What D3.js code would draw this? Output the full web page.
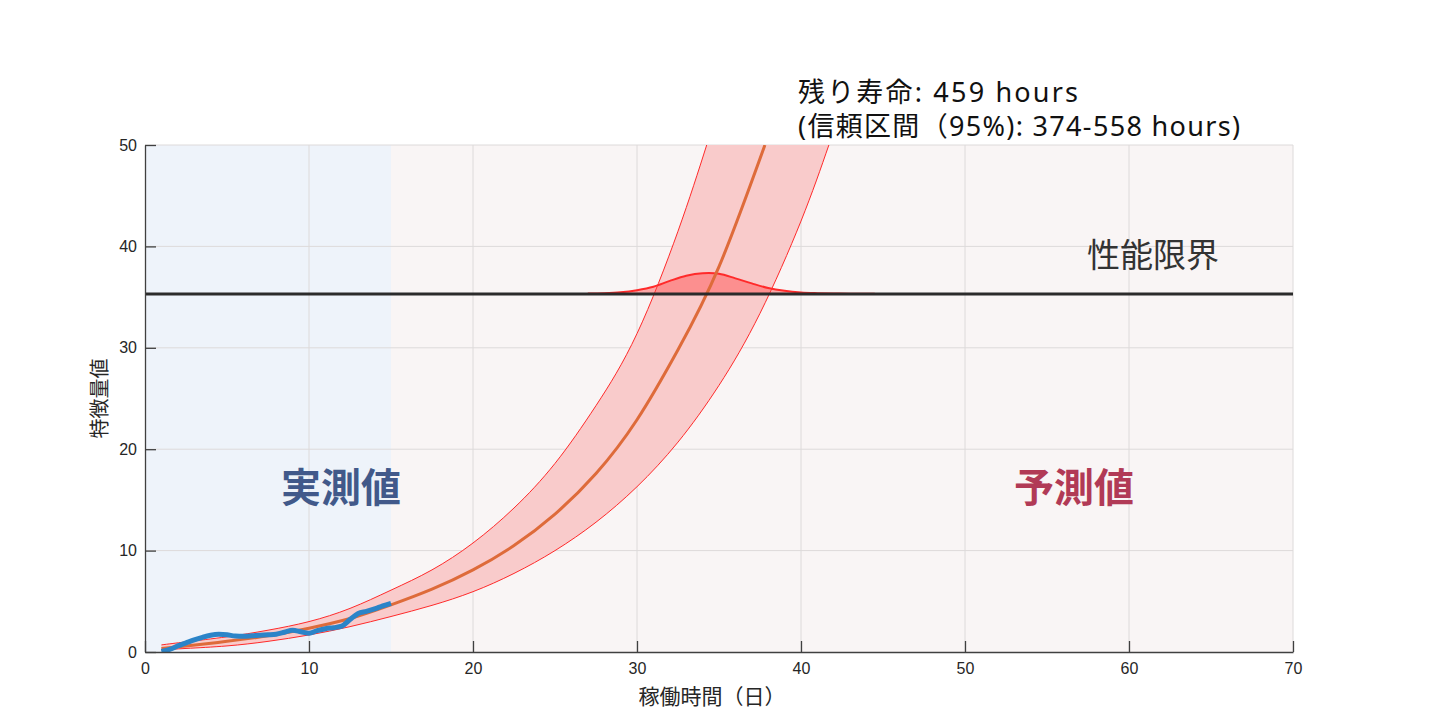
<!DOCTYPE html>
<html><head><meta charset="utf-8">
<script src="https://cdn.jsdelivr.net/npm/d3@7"></script>
<style>
html,body{margin:0;padding:0;background:#fff;}
svg{display:block;}
text{font-family:"Noto Sans","Noto Sans CJK JP",sans-serif;}
</style></head>
<body>
<svg id="chart" width="1437" height="725"></svg>
<script>
// ---- data ----
const xTicks = [0,10,20,30,40,50,60,70];
const yTicks = [0,10,20,30,40,50];
const threshold = 35.3;
const measuredEnd = 15;

const measuredDays   = [1,1.5,2,2.5,3,3.5,4,4.5,5,5.5,6,6.5,7,7.5,8,8.5,9,9.5,10,10.5,11,11.5,12,12.5,13,13.5,14,14.5,15];
const measuredValues = [0.05,0.25,0.6,0.9,1.2,1.45,1.65,1.74,1.7,1.58,1.56,1.6,1.66,1.7,1.76,1.95,2.15,2.0,1.85,2.1,2.3,2.4,2.55,3.2,3.8,4.0,4.25,4.55,4.8];

const fitDays   = [1,2.5,5,7.5,10,12.5,15,17.5,20,22.5,25,27.5,30,32.5,35,37.8];
const fitValues = [0.35,0.6,1.05,1.6,2.35,3.3,4.65,6.2,8.1,10.5,13.6,17.6,22.9,29.8,38.0,50];

const upperDays   = [1,2.5,5,7.5,10,12.5,15,17.5,20,22.5,25,27.5,30,32.5,34.25];
const upperValues = [0.7,1.0,1.5,2.15,3.0,4.3,6.1,8.1,10.75,14.2,18.6,24.3,31.4,41.5,50];

const lowerDays   = [1,2.5,5,7.5,10,12.5,15,17.5,20,22.5,25,27.5,30,32.5,35,37.5,40,41.7];
const lowerValues = [0.2,0.35,0.6,1.05,1.68,2.5,3.5,4.6,5.95,7.75,10.0,12.8,16.3,20.7,26.3,33.4,42.5,50];

const pdfDays    = [27,28,29,30,31,32,33,34,35,36,37,38,39,40,41,42,43,44.5];
const pdfHeights = [0.05,0.08,0.17,0.38,0.72,1.3,1.8,2.05,2.0,1.55,1.05,0.6,0.32,0.16,0.09,0.05,0.04,0.03];

const titleLines = ["残り寿命: 459 hours", "(信頼区間（95%): 374-558 hours)"];

// ---- layout ----
const L = 145, R = 1293, T = 145, B = 652;
const svg = d3.select("#chart");
const x = d3.scaleLinear().domain([0,70]).range([L,R]);
const y = d3.scaleLinear().domain([0,50]).range([B,T]);

svg.append("defs").append("clipPath").attr("id","clip")
  .append("rect").attr("x",L).attr("y",T).attr("width",R-L).attr("height",B-T);

// backgrounds
svg.append("rect").attr("x",x(0)).attr("y",T).attr("width",x(measuredEnd)-x(0)).attr("height",B-T).attr("fill","#EEF3FA");
svg.append("rect").attr("x",x(measuredEnd)).attr("y",T).attr("width",x(70)-x(measuredEnd)).attr("height",B-T).attr("fill","#F9F5F5");

// grid
const grid = svg.append("g");
grid.selectAll(".gx").data(xTicks.slice(1)).join("line")
  .attr("x1",d=>x(d)).attr("x2",d=>x(d)).attr("y1",T).attr("y2",B)
  .attr("stroke","#DDDADA").attr("stroke-width",1);
grid.selectAll(".gy").data(yTicks.slice(1)).join("line")
  .attr("x1",L).attr("x2",R).attr("y1",d=>y(d)).attr("y2",d=>y(d))
  .attr("stroke","#DDDADA").attr("stroke-width",1);

const plot = svg.append("g").attr("clip-path","url(#clip)");
const mk = (ds,vs)=>ds.map((d,i)=>[d,vs[i]]);
const line = d3.line().x(d=>x(d[0])).y(d=>y(d[1])).curve(d3.curveNatural);

const upperPts = mk(upperDays,upperValues);
const lowerPts = mk(lowerDays,lowerValues);
const bandPath = line(upperPts) + "L" + line(lowerPts.slice().reverse()).slice(1) + "Z";
plot.append("path").attr("d",bandPath).attr("fill","#F9CBCB").attr("stroke","none");
plot.append("path").attr("d",line(upperPts)).attr("fill","none").attr("stroke","#FF2A2A").attr("stroke-width",1);
plot.append("path").attr("d",line(lowerPts)).attr("fill","none").attr("stroke","#FF2A2A").attr("stroke-width",1);

// pdf
const pdfPts = mk(pdfDays,pdfHeights);
const pdfArea = d3.area().x(d=>x(d[0])).y0(y(threshold)).y1(d=>y(threshold+d[1])).curve(d3.curveCatmullRom.alpha(0.5));
plot.append("path").attr("d",pdfArea(pdfPts)).attr("fill","rgba(255,70,70,0.45)");
plot.append("path").attr("d",d3.line().x(d=>x(d[0])).y(d=>y(threshold+d[1])).curve(d3.curveCatmullRom.alpha(0.5))(pdfPts))
  .attr("fill","none").attr("stroke","#FF2A2A").attr("stroke-width",2);

// fit
plot.append("path").attr("d",line(mk(fitDays,fitValues))).attr("fill","none").attr("stroke","#DE6B3A").attr("stroke-width",3);
// measured
plot.append("path").attr("d",d3.line().x(d=>x(d[0])).y(d=>y(d[1])).curve(d3.curveMonotoneX)(mk(measuredDays,measuredValues)))
  .attr("fill","none").attr("stroke","#2B84C8").attr("stroke-width",5).attr("stroke-linejoin","round");

// threshold
svg.append("line").attr("x1",L).attr("x2",R).attr("y1",y(threshold)).attr("y2",y(threshold))
  .attr("stroke","#2B2B2B").attr("stroke-width",3);

// axes
const xAxis = d3.axisBottom(x).tickValues(xTicks).tickSize(-11).tickSizeOuter(0).tickPadding(11);
const yAxis = d3.axisLeft(y).tickValues(yTicks).tickSize(-11).tickSizeOuter(0).tickPadding(8);
const gx = svg.append("g").attr("transform",`translate(0,${B})`).call(xAxis);
const gy = svg.append("g").attr("transform",`translate(${L},0)`).call(yAxis);
[gx,gy].forEach(g=>{
  g.select(".domain").attr("stroke","#404040").attr("stroke-width",1.3);
  g.selectAll(".tick line").attr("stroke","#404040").attr("stroke-width",1.3);
  g.selectAll(".tick text").attr("fill","#262626").style("font-family","'Liberation Sans',Arial,sans-serif").style("font-size","16px");
});

// labels
svg.append("text").attr("x",712).attr("y",704).attr("text-anchor","middle")
  .attr("fill","#262626").style("font-size","21px").text("稼働時間（日）");
svg.append("text").attr("transform",`translate(107,${(T+B)/2}) rotate(-90)`).attr("text-anchor","middle")
  .attr("fill","#262626").style("font-size","20px").text("特徴量値");

svg.append("text").attr("x",341).attr("y",502).attr("text-anchor","middle")
  .attr("fill","#41598A").style("font-size","40px").style("font-weight","bold").text("実測値");
svg.append("text").attr("x",1074).attr("y",502).attr("text-anchor","middle")
  .attr("fill","#B13A56").style("font-size","40px").style("font-weight","bold").text("予測値");
svg.append("text").attr("x",1153).attr("y",267).attr("text-anchor","middle")
  .attr("fill","#333").style("font-size","33px").text("性能限界");

const title = svg.append("text").attr("fill","#111").style("font-size","27px");
const targetW = [280, 442];
title.selectAll("tspan").data(titleLines).join("tspan")
  .attr("x",798).attr("y",(d,i)=>102+i*34).text(d=>d)
  .each(function(d,i){
    const w = this.getComputedTextLength();
    if (Math.abs(w - targetW[i]) > 2) {
      d3.select(this).attr("textLength", targetW[i]).attr("lengthAdjust","spacing");
    }
  });
</script>
</body></html>
